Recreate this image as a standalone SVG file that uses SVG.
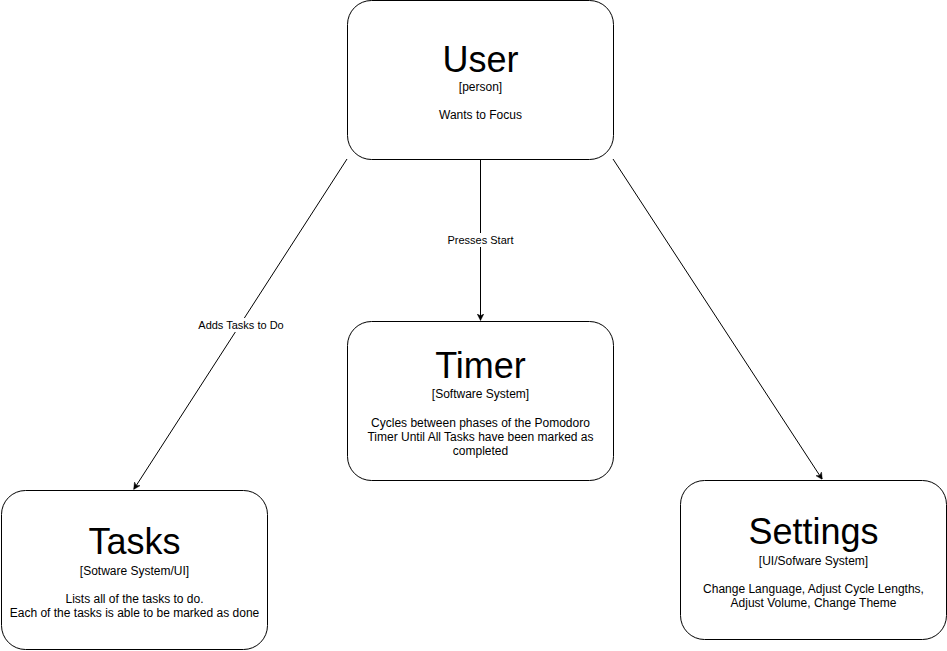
<svg xmlns="http://www.w3.org/2000/svg" width="947" height="651" viewBox="0 0 947 651">
<defs>
<style>
.box{fill:#fff;stroke:#000;stroke-width:1}
.t{font-family:"Liberation Sans",Arial,sans-serif;fill:#000;text-anchor:middle}
.title{font-size:36px}
.s{font-size:12px}
.edge{stroke:#000;stroke-width:1;fill:none}
.lbl{font-family:"Liberation Sans",Arial,sans-serif;font-size:11px;fill:#000;text-anchor:middle}
</style>
<marker id="arr" viewBox="0 0 10 10" refX="9" refY="5" markerWidth="7" markerHeight="7" markerUnits="userSpaceOnUse" orient="auto">
<path d="M0,0 L10,5 L0,10 L3,5 Z" fill="#000" stroke="#000" stroke-width="0.5"/>
</marker>
</defs>
<rect width="947" height="651" fill="#fff"/>
<g id="connectors">
<line class="edge" x1="347" y1="159" x2="134" y2="489" marker-end="url(#arr)"/>
<rect x="196" y="318" width="90" height="14" fill="#fff"/>
<text class="lbl" x="241" y="329">Adds Tasks to Do</text>
<line class="edge" x1="480.5" y1="159" x2="480.5" y2="320" marker-end="url(#arr)"/>
<rect x="445" y="233" width="71" height="14" fill="#fff"/>
<text class="lbl" x="480.5" y="244">Presses Start</text>
<line class="edge" x1="613" y1="159" x2="822" y2="479" marker-end="url(#arr)"/>
</g>
<g id="user">
<rect class="box" x="347.5" y="0.5" width="266" height="159" rx="24"/>
<text class="t title" x="480.5" y="72">User</text>
<text class="t s" x="480.5" y="91">[person]</text>
<text class="t s" x="480.5" y="119">Wants to Focus</text>
</g>
<g id="timer">
<rect class="box" x="347.5" y="321.5" width="266" height="159" rx="24"/>
<text class="t title" x="480.5" y="378">Timer</text>
<text class="t s" x="480.5" y="398">[Software System]</text>
<text class="t s" x="480.5" y="427">Cycles between phases of the Pomodoro</text>
<text class="t s" x="480.5" y="441">Timer Until All Tasks have been marked as</text>
<text class="t s" x="480.5" y="455">completed</text>
</g>
<g id="tasks">
<rect class="box" x="1.5" y="490.5" width="266" height="159" rx="24"/>
<text class="t title" x="134.5" y="554">Tasks</text>
<text class="t s" x="134.5" y="575">[Sotware System/UI]</text>
<text class="t s" x="134.5" y="603">Lists all of the tasks to do.</text>
<text class="t s" x="134.5" y="617">Each of the tasks is able to be marked as done</text>
</g>
<g id="settings">
<rect class="box" x="680.5" y="480.5" width="266" height="159" rx="24"/>
<text class="t title" x="813.5" y="544">Settings</text>
<text class="t s" x="813.5" y="565">[UI/Sofware System]</text>
<text class="t s" x="813.5" y="593">Change Language, Adjust Cycle Lengths,</text>
<text class="t s" x="813.5" y="607">Adjust Volume, Change Theme</text>
</g>
</svg>
